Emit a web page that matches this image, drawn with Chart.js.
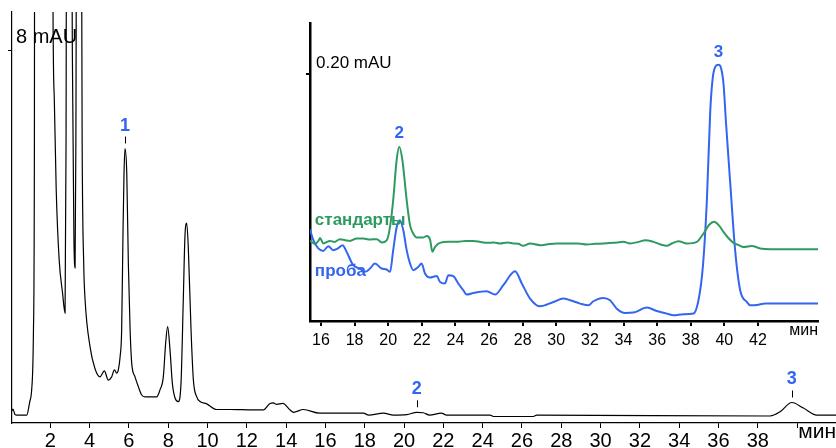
<!DOCTYPE html>
<html>
<head>
<meta charset="utf-8">
<script src="https://cdn.jsdelivr.net/npm/chart.js"></script>
<style>
  body { margin: 0; background: #fff; }
  #wrap { position: relative; width: 836px; height: 448px; }
  #mainChart { position: absolute; left: 0; top: 0; }
  #insetChart { position: absolute; left: 295px; top: 10px; }
</style>
</head>
<body>
<div id="wrap">
  <canvas id="mainChart" width="836" height="448"></canvas>
  <canvas id="insetChart" width="541" height="340"></canvas>
</div>
<script>
// full chromatogram, mAU vs min
var mainTime = [0.05, 0.1, 0.2, 0.3, 0.8, 0.95, 1.05, 1.14, 1.19, 1.22, 1.6, 2.1, 2.13, 2.2, 2.3, 2.45, 2.62, 2.75, 2.8, 2.84,
  3.05, 3.12, 3.2, 3.26, 3.3, 3.36, 3.55, 3.62, 3.7, 3.77, 4.02, 4.27, 4.53, 4.75, 4.95, 5.12, 5.26, 5.38, 5.46, 5.55,
  5.63, 5.7, 5.75, 5.8, 5.89, 5.97, 6.06, 6.14, 6.31, 6.48, 6.65, 6.82, 7.41, 7.58, 7.75, 7.87, 7.97, 8.09, 8.21, 8.35,
  8.51, 8.65, 8.77, 8.85, 8.94, 9.02, 9.16, 9.28, 9.45, 9.62, 9.96, 10.47, 11.14, 12.33, 12.84, 13.18, 13.35, 13.52, 13.83, 14.2,
  14.37, 14.88, 15.7, 17.93, 18.2, 18.95, 19.46, 20.14, 20.65, 20.98, 21.3, 21.9, 22.17, 24.38, 24.55, 26.58, 26.75, 38.63, 39.13, 39.73,
  40.32, 41.0, 41.98];
var mainSignal = [0.26, 0.3, 0.18, 0.17, 0.17, 0.45, 0.71, 1.93, 6.0, 20, 25, 20, 9.5, 7.0, 5.0, 3.5, 2.8, 2.36, 6, 15,
  15, 8, 4, 3.33, 6, 15, 15, 6, 3.4, 2.64, 1.64, 1.17, 0.99, 1.12, 0.92, 0.99, 1.14, 1.07, 1.14, 1.42,
  2.0, 4.14, 5.36, 5.89, 5.36, 3.43, 2.0, 1.29, 0.99, 0.78, 0.6, 0.56, 0.56, 0.71, 0.99, 1.72, 2.07, 1.57, 0.85, 0.53,
  0.46, 0.85, 2.71, 4.0, 4.29, 3.78, 2.0, 0.92, 0.56, 0.46, 0.41, 0.29, 0.29, 0.28, 0.28, 0.42, 0.43, 0.40, 0.42, 0.28,
  0.23, 0.29, 0.21, 0.21, 0.17, 0.21, 0.17, 0.18, 0.23, 0.22, 0.17, 0.21, 0.17, 0.17, 0.14, 0.14, 0.17, 0.15, 0.24, 0.44,
  0.32, 0.17, 0.17];
var mainTicks = [2, 4, 6, 8, 10, 12, 14, 16, 18, 20, 22, 24, 26, 28, 30, 32, 34, 36, 38, 40];
var mainTickLabels = ['2', '4', '6', '8', '10', '12', '14', '16', '18', '20', '22', '24', '26', '28', '30', '32', '34', '36', '38', ''];
var mainPeakNames = ['1', '2', '3'];
var mainPeakTimes = [5.8, 20.65, 39.73];
var mainPeakHeights = [5.89, 0.23, 0.44];

// inset: standards and sample, 15-45 min
var stdTime = [15.35, 15.64, 15.9, 15.94, 16.14, 16.54, 16.8, 17.13, 17.45, 17.73, 18.13, 18.52, 18.9, 19.32, 19.62, 19.92, 20.11, 20.3, 20.5, 20.66,
  20.85, 21.1, 21.3, 21.49, 21.7, 22.09, 22.29, 22.49, 22.63, 22.79, 23.08, 23.6, 24.08, 24.6, 25.07, 25.5, 25.86, 26.3, 26.65, 27.1,
  27.45, 27.75, 28.04, 28.44, 29.04, 29.5, 30.03, 30.63, 31.3, 31.82, 32.3, 32.8, 33.4, 34.0, 34.39, 34.9, 35.29, 35.78, 36.2, 36.58,
  36.9, 37.27, 37.77, 38.36, 38.76, 39.1, 39.39, 39.7, 39.95, 40.25, 40.54, 40.85, 41.14, 41.64, 42.13, 42.73, 45.57];
var stdSignal = [0.0649, 0.0625, 0.066, 0.0673, 0.0628, 0.0649, 0.064, 0.0663, 0.0655, 0.0649, 0.0669, 0.0669, 0.066, 0.0663, 0.0636, 0.0655, 0.0763, 0.098, 0.13, 0.1412,
  0.13, 0.098, 0.0777, 0.0709, 0.0677, 0.0677, 0.0688, 0.066, 0.056, 0.06, 0.0633, 0.0641, 0.0641, 0.0649, 0.0649, 0.064, 0.0633, 0.0636, 0.0628, 0.0636,
  0.0628, 0.0625, 0.0609, 0.0628, 0.0614, 0.0622, 0.0628, 0.0628, 0.0628, 0.062, 0.0625, 0.0628, 0.0633, 0.0641, 0.0628, 0.0641, 0.0655, 0.0641, 0.062, 0.0609,
  0.063, 0.0647, 0.0628, 0.0641, 0.0709, 0.078, 0.0804, 0.077, 0.0722, 0.067, 0.0633, 0.0615, 0.06, 0.0608, 0.0588, 0.0582, 0.0582];
var sampleTime = [15.35, 15.55, 15.84, 16.14, 16.44, 16.73, 17.03, 17.29, 17.53, 17.92, 18.32, 18.62, 18.92, 19.21, 19.61, 19.91, 20.11, 20.3, 20.51, 20.7,
  20.9, 21.1, 21.3, 21.49, 21.79, 21.99, 22.19, 22.49, 22.89, 23.08, 23.38, 23.58, 23.88, 24.17, 24.47, 24.67, 25.07, 25.86, 26.36, 26.85,
  27.55, 27.95, 28.44, 29.04, 29.83, 30.42, 30.82, 31.42, 31.91, 32.21, 32.8, 33.2, 33.6, 34.1, 34.59, 35.39, 35.98, 36.58, 36.97, 37.57,
  38.16, 38.46, 38.72, 38.96, 39.16, 39.3, 39.46, 39.65, 39.8, 39.95, 40.1, 40.35, 40.64, 40.94, 41.34, 41.54, 41.94, 42.43, 45.57];
var sampleSignal = [0.0742, 0.0655, 0.0588, 0.0568, 0.0606, 0.0574, 0.059, 0.0614, 0.056, 0.0452, 0.0425, 0.0398, 0.0425, 0.0466, 0.0425, 0.0417, 0.0398, 0.0574, 0.0763, 0.0817,
  0.0736, 0.0574, 0.0466, 0.0412, 0.0438, 0.0466, 0.0385, 0.0352, 0.0365, 0.0317, 0.0304, 0.0371, 0.0363, 0.0304, 0.0249, 0.0214, 0.0227, 0.0241, 0.0214, 0.029,
  0.0403, 0.0304, 0.0182, 0.0119, 0.0154, 0.0182, 0.0168, 0.0141, 0.0127, 0.016, 0.0187, 0.0168, 0.01, 0.0065, 0.0068, 0.0109, 0.0081, 0.006, 0.0046, 0.0055,
  0.006, 0.0168, 0.0438, 0.098, 0.17, 0.196, 0.206, 0.2075, 0.205, 0.192, 0.16, 0.1115, 0.0574, 0.0249, 0.0154, 0.0127, 0.013, 0.0141, 0.0141];
var insetTicks = [16, 18, 20, 22, 24, 26, 28, 30, 32, 34, 36, 38, 40, 42];
var insetTickLabels = ['16', '18', '20', '22', '24', '26', '28', '30', '32', '34', '36', '38', '40', '42'];
var insetPeakNames = ['2', '3'];
var insetPeakTimes = [20.66, 39.65];
var insetPeakHeights = [0.1412, 0.2075];

var BLUE = '#3366ee';
var GREEN = '#2f9a60';
Chart.defaults.font.family = "'Liberation Sans', Arial, sans-serif";
Chart.defaults.color = '#000';

function points(xs, ys) {
  return xs.map(function (x, i) { return { x: x, y: ys[i] }; });
}

// text labels and little tick marks over the peaks
var peakMarks = {
  id: 'peakMarks',
  afterDatasetsDraw: function (chart, args, opts) {
    var ctx = chart.ctx, xs = chart.scales.x, ys = chart.scales.y;
    ctx.save();
    (opts.marks || []).forEach(function (m) {
      var px = xs.getPixelForValue(m.x), py = ys.getPixelForValue(m.y);
      ctx.fillStyle = m.color;
      ctx.font = m.font;
      ctx.textAlign = m.align || 'center';
      ctx.textBaseline = 'middle';
      ctx.fillText(m.text, px, py + m.dy);
      if (m.tick) {
        ctx.strokeStyle = '#000';
        ctx.lineWidth = 1;
        ctx.beginPath();
        ctx.moveTo(Math.round(px) + 0.5, py - 12);
        ctx.lineTo(Math.round(px) + 0.5, py - 5);
        ctx.stroke();
      }
    });
    ctx.restore();
  }
};

function fitPadding(s) {
  s.paddingTop = 0; s.paddingBottom = 0; s.paddingLeft = 0; s.paddingRight = 0;
}

var mainMarks = mainPeakNames.map(function (n, i) {
  return { x: mainPeakTimes[i], y: mainPeakHeights[i], text: n, color: BLUE, font: "bold 18px 'Liberation Sans', Arial", dy: -23, tick: true };
});

new Chart(document.getElementById('mainChart'), {
  type: 'line',
  data: {
    datasets: [{
      data: points(mainTime, mainSignal),
      borderColor: '#000',
      borderWidth: 1.2,
      pointRadius: 0,
      cubicInterpolationMode: 'monotone'
    }]
  },
  options: {
    responsive: false,
    animation: false,
    layout: { padding: { top: 12, right: 0, left: 0, bottom: 0 } },
    plugins: {
      legend: { display: false },
      tooltip: { enabled: false },
      peakMarks: { marks: mainMarks }
    },
    scales: {
      x: {
        type: 'linear', min: 0.05, max: 41.98,
        afterBuildTicks: function (s) { s.ticks = mainTicks.map(function (v) { return { value: v }; }); },
        afterFit: function (s) { s.height = 25; fitPadding(s); },
        ticks: {
          autoSkip: false, maxRotation: 0, padding: 1, color: '#000',
          font: { size: 20 },
          callback: function (v, i) { return mainTickLabels[i]; }
        },
        grid: { drawOnChartArea: false, tickLength: 5, color: '#000', lineWidth: 1 },
        border: { color: '#000', width: 1.2 },
        title: { display: true, text: 'мин', align: 'end', color: '#000', font: { size: 21 }, padding: { top: 0, bottom: 3 } }
      },
      y: {
        type: 'linear', min: 0, max: 8.82,
        afterBuildTicks: function (s) { s.ticks = [{ value: 8 }]; },
        afterFit: function (s) { s.width = 12; fitPadding(s); },
        ticks: {
          mirror: true, padding: 4, labelOffset: -13, color: '#000',
          font: { size: 20 },
          callback: function (v) { return v + ' mAU'; }
        },
        grid: { drawOnChartArea: false, tickLength: 4, color: '#000', lineWidth: 1 },
        border: { color: '#000', width: 1.2 }
      }
    }
  },
  plugins: [peakMarks]
});

var insetMarks = insetPeakNames.map(function (n, i) {
  return { x: insetPeakTimes[i], y: insetPeakHeights[i], text: n, color: BLUE, font: "bold 17px 'Liberation Sans', Arial", dy: -13, tick: false };
});
insetMarks.push({ x: 15.64, y: 0.0817, text: 'стандарты', color: GREEN, font: "bold 17px 'Liberation Sans', Arial", dy: 0, align: 'left' });
insetMarks.push({ x: 15.64, y: 0.0403, text: 'проба', color: BLUE, font: "bold 17px 'Liberation Sans', Arial", dy: 0, align: 'left' });

new Chart(document.getElementById('insetChart'), {
  type: 'line',
  data: {
    datasets: [{
      label: 'стандарты',
      data: points(stdTime, stdSignal),
      borderColor: GREEN,
      borderWidth: 2,
      pointRadius: 0,
      cubicInterpolationMode: 'monotone'
    }, {
      label: 'проба',
      data: points(sampleTime, sampleSignal),
      borderColor: BLUE,
      borderWidth: 2,
      pointRadius: 0,
      cubicInterpolationMode: 'monotone'
    }]
  },
  options: {
    responsive: false,
    animation: false,
    layout: { padding: { top: 13, right: 18, left: 0, bottom: 0 } },
    plugins: {
      legend: { display: false },
      tooltip: { enabled: false },
      peakMarks: { marks: insetMarks }
    },
    scales: {
      x: {
        type: 'linear', min: 15.35, max: 45.57,
        afterBuildTicks: function (s) { s.ticks = insetTicks.map(function (v) { return { value: v }; }); },
        afterFit: function (s) { s.height = 29; fitPadding(s); },
        ticks: {
          autoSkip: false, maxRotation: 0, padding: 5, color: '#000',
          font: { size: 16 },
          callback: function (v, i) { return insetTickLabels[i]; }
        },
        grid: { drawOnChartArea: false, tickLength: 5, color: '#000', lineWidth: 2 },
        border: { color: '#000', width: 2.5 },
        title: { display: true, text: 'мин', align: 'end', color: '#000', font: { size: 16 }, padding: { top: 0, bottom: 10 } }
      },
      y: {
        type: 'linear', min: 0, max: 0.2414,
        afterBuildTicks: function (s) { s.ticks = [{ value: 0.2 }]; },
        afterFit: function (s) { s.width = 15; fitPadding(s); },
        ticks: {
          mirror: true, padding: 6, labelOffset: -11, color: '#000',
          font: { size: 17 },
          callback: function (v) { return v.toFixed(2) + ' mAU'; }
        },
        grid: { drawOnChartArea: false, tickLength: 4, color: '#000', lineWidth: 2 },
        border: { color: '#000', width: 2.5 }
      }
    }
  },
  plugins: [peakMarks]
});
</script>
</body>
</html>
